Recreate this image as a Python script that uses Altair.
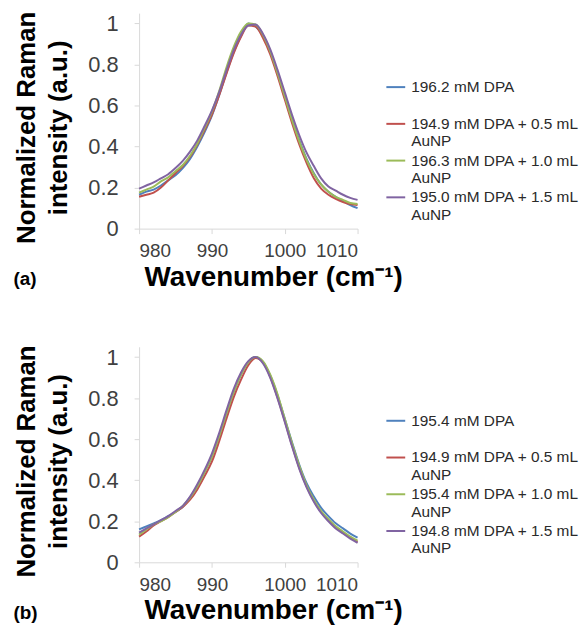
import altair as alt
import pandas as pd

WAVENUMBER = list(range(980, 1011))
COLORS = ["#4F81BD", "#C0504D", "#9BBB59", "#8064A2"]

A_LABELS = ["196.2 mM DPA", "194.9 mM DPA + 0.5 mL|AuNP",
            "196.3 mM DPA + 1.0 mL|AuNP", "195.0 mM DPA + 1.5 mL|AuNP"]
A_BLUE = [0.165, 0.18, 0.19, 0.21, 0.235, 0.26, 0.295, 0.34, 0.40, 0.47, 0.55,
          0.65, 0.76, 0.86, 0.94, 1.0, 0.985, 0.94, 0.86, 0.76, 0.645,
          0.535, 0.43, 0.34, 0.27, 0.215, 0.18, 0.155, 0.135, 0.115, 0.10]
A_RED = [0.155, 0.165, 0.175, 0.20, 0.235, 0.27, 0.305, 0.35, 0.41, 0.48, 0.555,
         0.65, 0.755, 0.855, 0.935, 0.99, 0.985, 0.93, 0.85, 0.745, 0.63,
         0.515, 0.41, 0.32, 0.245, 0.195, 0.165, 0.145, 0.13, 0.12, 0.115]
A_GREEN = [0.175, 0.19, 0.205, 0.23, 0.25, 0.28, 0.31, 0.355, 0.415, 0.49, 0.57,
           0.67, 0.785, 0.885, 0.96, 1.0, 0.995, 0.945, 0.865, 0.76, 0.645,
           0.53, 0.425, 0.335, 0.265, 0.215, 0.18, 0.155, 0.14, 0.125, 0.12]
A_PURPLE = [0.195, 0.21, 0.225, 0.245, 0.265, 0.295, 0.33, 0.375, 0.43, 0.50, 0.575,
            0.665, 0.77, 0.87, 0.945, 0.99, 0.995, 0.95, 0.875, 0.775, 0.665,
            0.555, 0.455, 0.37, 0.305, 0.245, 0.205, 0.185, 0.165, 0.15, 0.14]

B_LABELS = ["195.4 mM DPA", "194.9 mM DPA + 0.5 mL|AuNP",
            "195.4 mM DPA + 1.0 mL|AuNP", "194.8 mM DPA + 1.5 mL|AuNP"]
B_BLUE = [0.16, 0.175, 0.19, 0.205, 0.225, 0.245, 0.27, 0.315, 0.37, 0.44, 0.515,
          0.615, 0.725, 0.83, 0.915, 0.975, 1.0, 0.975, 0.91, 0.815, 0.70,
          0.585, 0.475, 0.385, 0.32, 0.265, 0.225, 0.19, 0.165, 0.14, 0.12]
B_RED = [0.125, 0.15, 0.18, 0.20, 0.22, 0.245, 0.27, 0.305, 0.355, 0.42, 0.49,
         0.59, 0.70, 0.805, 0.89, 0.96, 0.995, 0.975, 0.905, 0.805, 0.69,
         0.57, 0.46, 0.37, 0.30, 0.245, 0.205, 0.17, 0.145, 0.12, 0.10]
B_GREEN = [0.135, 0.16, 0.185, 0.20, 0.22, 0.245, 0.275, 0.315, 0.37, 0.44, 0.515,
           0.615, 0.725, 0.83, 0.915, 0.975, 1.0, 0.98, 0.915, 0.82, 0.70,
           0.58, 0.47, 0.375, 0.305, 0.25, 0.21, 0.175, 0.15, 0.125, 0.105]
B_PURPLE = [0.145, 0.165, 0.185, 0.205, 0.225, 0.25, 0.275, 0.32, 0.38, 0.45, 0.53,
            0.63, 0.74, 0.845, 0.925, 0.98, 1.0, 0.97, 0.90, 0.80, 0.685,
            0.565, 0.455, 0.365, 0.295, 0.24, 0.20, 0.165, 0.14, 0.115, 0.095]

X_TICKS = [980, 990, 1000, 1010]
Y_TICKS = [0, 0.2, 0.4, 0.6, 0.8, 1]

NB = "\u00a0"
LABEL_EXPR = ("indexof(datum.label, '|') < 0 ? [datum.label, '" + NB + "'] "
              ": split(datum.label, '|')")


def panel(labels, series, tag):
    rows = []
    for lab, vals in zip(labels, series):
        for w, v in zip(WAVENUMBER, vals):
            rows.append({"w": w, "v": v, "s": lab})
    df = pd.DataFrame(rows)
    return alt.Chart(df).mark_line(strokeWidth=2, interpolate="monotone").encode(
        x=alt.X("w:Q", scale=alt.Scale(domain=[980, 1010], nice=False),
                axis=alt.Axis(values=X_TICKS, title="Wavenumber (cm⁻¹)",
                              titleAnchor="start", titleAlign="left", titleX=5,
                              titlePadding=3, labelPadding=8, format="d",
                              labelFontSize=19, titleFontSize=28)),
        y=alt.Y("v:Q", scale=alt.Scale(domain=[0, 1.05], nice=False),
                axis=alt.Axis(values=Y_TICKS, format="~g",
                              title=["Normalized Raman", "intensity (a.u.)"],
                              titleY=115, titleLineHeight=33, titlePadding=16,
                              labelPadding=16, labelFontSize=22, titleFontSize=26)),
        color=alt.Color("s:N", sort=labels,
                        scale=alt.Scale(domain=labels, range=COLORS),
                        legend=alt.Legend(title=None, orient="none", legendX=248, legendY=64,
                                          symbolType="stroke", symbolSize=360,
                                          symbolStrokeWidth=2, labelFontSize=15.5,
                                          labelColor="#2a2a2a", labelLimit=300,
                                          labelExpr=LABEL_EXPR,
                                          rowPadding=0, labelOffset=5)),
    ).properties(
        width=220, height=217,
        title=alt.TitleParams(tag, orient="bottom", anchor="start", frame="bounds",
                              fontSize=19, fontWeight="bold", color="#000000",
                              offset=-21),
    )


chart = alt.vconcat(
    panel(A_LABELS, [A_BLUE, A_RED, A_GREEN, A_PURPLE], "(a)"),
    panel(B_LABELS, [B_BLUE, B_RED, B_GREEN, B_PURPLE], "(b)"),
    spacing=53,
).resolve_scale(color="independent").properties(
    padding={"left": 5, "top": 0, "right": 0, "bottom": 0}
).configure(font="Liberation Sans").configure_view(stroke=None).configure_axis(
    grid=False, domainColor="#d9d9d9", tickColor="#d9d9d9", tickSize=5,
    labelColor="#404040", labelFont="Liberation Sans",
    titleFontWeight="bold", titleColor="#000000", titleFont="Liberation Sans",
)

chart.save("out.html", embed_options={"renderer": "svg", "actions": False})
